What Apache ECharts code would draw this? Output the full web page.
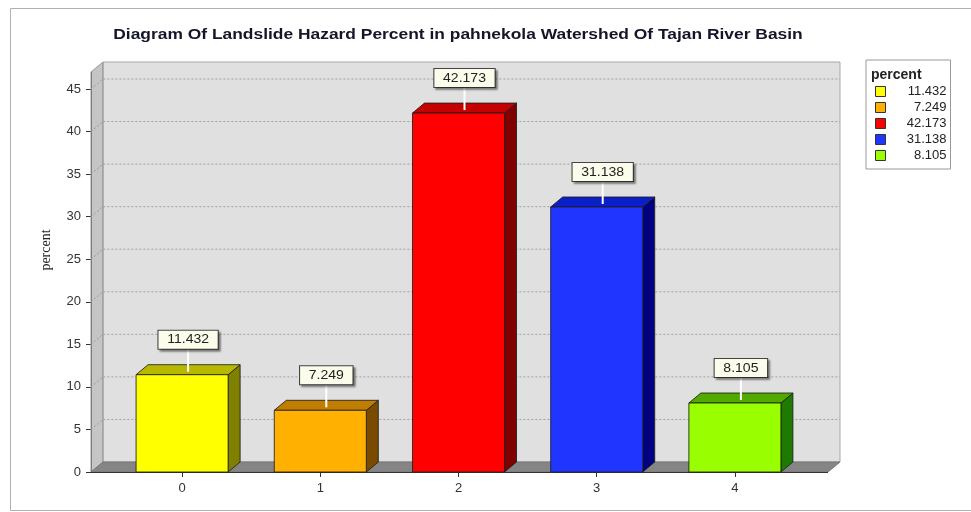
<!DOCTYPE html>
<html>
<head>
<meta charset="utf-8">
<script src="https://cdn.jsdelivr.net/npm/echarts@6/dist/echarts.min.js"></script>
<style>
html,body{margin:0;padding:0;background:#fff;}
#chart{width:971px;height:512px;}
</style>
</head>
<body>
<div id="chart"></div>
<script>
// ---- data ----
const categories = ['0', '1', '2', '3', '4'];
const percentValues = [11.432, 7.249, 42.173, 31.138, 8.105];
const yTickValues = [0, 5, 10, 15, 20, 25, 30, 35, 40, 45];
const chartTitle = 'Diagram Of Landslide Hazard Percent in pahnekola Watershed Of Tajan River Basin';
const legendTitle = 'percent';
const yAxisName = 'percent';

// ---- styles ----
const frontColors = ['#FFFF00', '#FFB000', '#FF0000', '#2035FF', '#99FF00'];
const sideColors  = ['#808000', '#7A4A00', '#800000', '#000080', '#1E7A00'];
const topColors   = ['#B8B800', '#C07E00', '#C40000', '#0A1FC8', '#50AA00'];
const DX = 12, DY = 10;          // 3D depth offset
const LEFT_EXT = 22, RIGHT_EXT = 24; // plot extends beyond the category band area

const chart = echarts.init(document.getElementById('chart'), null, {renderer: 'canvas'});

function renderWalls(params, api) {
  const cs = params.coordSys;
  const x0 = cs.x - LEFT_EXT, x1 = cs.x + cs.width + RIGHT_EXT;
  const yT = cs.y, yB = cs.y + cs.height;
  const children = [];
  children.push({type: 'rect', shape: {x: x0 + DX, y: yT - DY, width: x1 - x0, height: yB - yT},
    style: {fill: '#E0E0E0', stroke: '#A8A8A8', lineWidth: 1}});
  yTickValues.forEach(v => {
    if (v === 0) return;
    const y = api.coord([0, v])[1];
    children.push({type: 'polyline', shape: {points: [[x0, y], [x0 + DX, y - DY], [x1 + DX, y - DY]]},
      style: {stroke: '#A0A0A0', lineWidth: 1, lineDash: [2, 2], fill: null}});
  });
  children.push({type: 'polygon', shape: {points: [[x0, yT], [x0 + DX, yT - DY], [x0 + DX, yB - DY], [x0, yB]]},
    style: {fill: 'rgba(140,140,140,0.5)', stroke: '#999', lineWidth: 1}});
  children.push({type: 'polygon', shape: {points: [[x0, yB], [x0 + DX, yB - DY], [x1 + DX, yB - DY], [x1, yB]]},
    style: {fill: '#858585', stroke: '#777', lineWidth: 1}});
  children.push({type: 'line', shape: {x1: x0, y1: yB + 0.5, x2: x1, y2: yB + 0.5},
    style: {stroke: '#333', lineWidth: 1.2}});
  return {type: 'group', children};
}

function makeBarRender(idx) {
  return function (params, api) {
    const cat = api.value(0), val = api.value(1);
    const top = api.coord([cat, val]);
    const base = api.coord([cat, 0]);
    const w = api.size([1, 0])[0] * 0.666;
    const xa = top[0] - w / 2, xb = top[0] + w / 2;
    const yt = top[1], yb = base[1];
    const edge = {stroke: 'rgba(30,30,30,0.85)', lineWidth: 1};
    const cx = top[0] + DX / 2;
    const topMid = yt - DY / 2;
    const labelY = topMid - 30;
    return {type: 'group', children: [
      {type: 'polygon', shape: {points: [[xb, yt], [xb + DX, yt - DY], [xb + DX, yb - DY], [xb, yb]]},
        style: Object.assign({fill: sideColors[idx]}, edge)},
      {type: 'polygon', shape: {points: [[xa, yt], [xa + DX, yt - DY], [xb + DX, yt - DY], [xb, yt]]},
        style: Object.assign({fill: topColors[idx]}, edge)},
      {type: 'rect', shape: {x: xa, y: yt, width: w, height: yb - yt},
        style: Object.assign({fill: frontColors[idx]}, edge)},
      {type: 'line', shape: {x1: cx, y1: topMid + 2, x2: cx, y2: labelY + 9},
        style: {stroke: '#FFFFFF', lineWidth: 2}},
      {type: 'text', x: cx, y: labelY, scaleX: 1.08,
        style: {text: String(val), align: 'center', verticalAlign: 'middle',
          font: '13px "Liberation Sans", Arial, sans-serif', fill: '#222',
          backgroundColor: '#FCFCEA', borderColor: '#444', borderWidth: 1,
          padding: [3, 8, 2, 8],
          shadowColor: 'rgba(0,0,0,0.35)', shadowBlur: 2, shadowOffsetX: 2, shadowOffsetY: 2}}
    ]};
  };
}

const series = [{
  type: 'custom', name: '__walls', z: 1, silent: true,
  renderItem: renderWalls, data: [[0, 0]], clip: false
}];
percentValues.forEach((v, i) => {
  series.push({
    type: 'custom', name: String(v), z: 2, clip: false,
    itemStyle: {color: frontColors[i], borderColor: '#333', borderWidth: 1},
    renderItem: makeBarRender(i),
    encode: {x: 0, y: 1},
    data: [[i, v]]
  });
});

const option = {
  animation: false,
  backgroundColor: '#fff',
  title: {
    text: legendTitle, left: 871, top: 68, padding: 0,
    textStyle: {fontSize: 14, fontWeight: 'bold', color: '#222', fontFamily: '"Liberation Sans", Arial, sans-serif'}
  },
  graphic: [
    {type: 'rect', z: -10, shape: {x: 10.5, y: 8.5, width: 990, height: 502}, style: {fill: null, stroke: '#B0B0B0', lineWidth: 1}},
    {type: 'text', x: 458, y: 35, scaleX: 1.16, style: {text: chartTitle, align: 'center', verticalAlign: 'middle',
      font: 'bold 15px "Liberation Sans", Arial, sans-serif', fill: '#15152a'}},
    {type: 'text', x: 46, y: 250, rotation: Math.PI / 2, style: {text: yAxisName, align: 'center', verticalAlign: 'middle',
      font: '14px "Liberation Serif", "Times New Roman", serif', fill: '#222'}}
  ],
  legend: {
    orient: 'vertical', left: 866, top: 60,
    data: percentValues.map(v => String(v)),
    icon: 'rect', itemWidth: 10, itemHeight: 10, itemGap: 3,
    padding: [25, 4, 7, 9],
    borderColor: '#999', borderWidth: 1,
    itemStyle: {borderColor: '#333', borderWidth: 1},
    selectedMode: false,
    formatter: name => '{a|' + name + '}',
    textStyle: {color: '#222', fontSize: 13, fontFamily: '"Liberation Sans", Arial, sans-serif',
      rich: {a: {width: 56, align: 'right', fontSize: 13, color: '#222'}}}
  },
  grid: {left: 113, right: 167, top: 72, bottom: 40, containLabel: false},
  xAxis: {
    type: 'category', data: categories, boundaryGap: true,
    axisLine: {show: false},
    axisTick: {show: true, alignWithLabel: true, length: 5, lineStyle: {color: '#333'}},
    axisLabel: {margin: 10, fontSize: 13, color: '#333', fontFamily: '"Liberation Sans", Arial, sans-serif'},
    splitLine: {show: false}
  },
  yAxis: {
    type: 'value', min: 0, max: 47, offset: LEFT_EXT,
    axisLine: {show: true, lineStyle: {color: '#333'}},
    axisTick: {show: true, length: 5, customValues: yTickValues, lineStyle: {color: '#333'}},
    axisLabel: {margin: 10, fontSize: 13, color: '#333', customValues: yTickValues,
      fontFamily: '"Liberation Sans", Arial, sans-serif'},
    splitLine: {show: false}
  },
  series: series
};
chart.setOption(option);
</script>
</body>
</html>
